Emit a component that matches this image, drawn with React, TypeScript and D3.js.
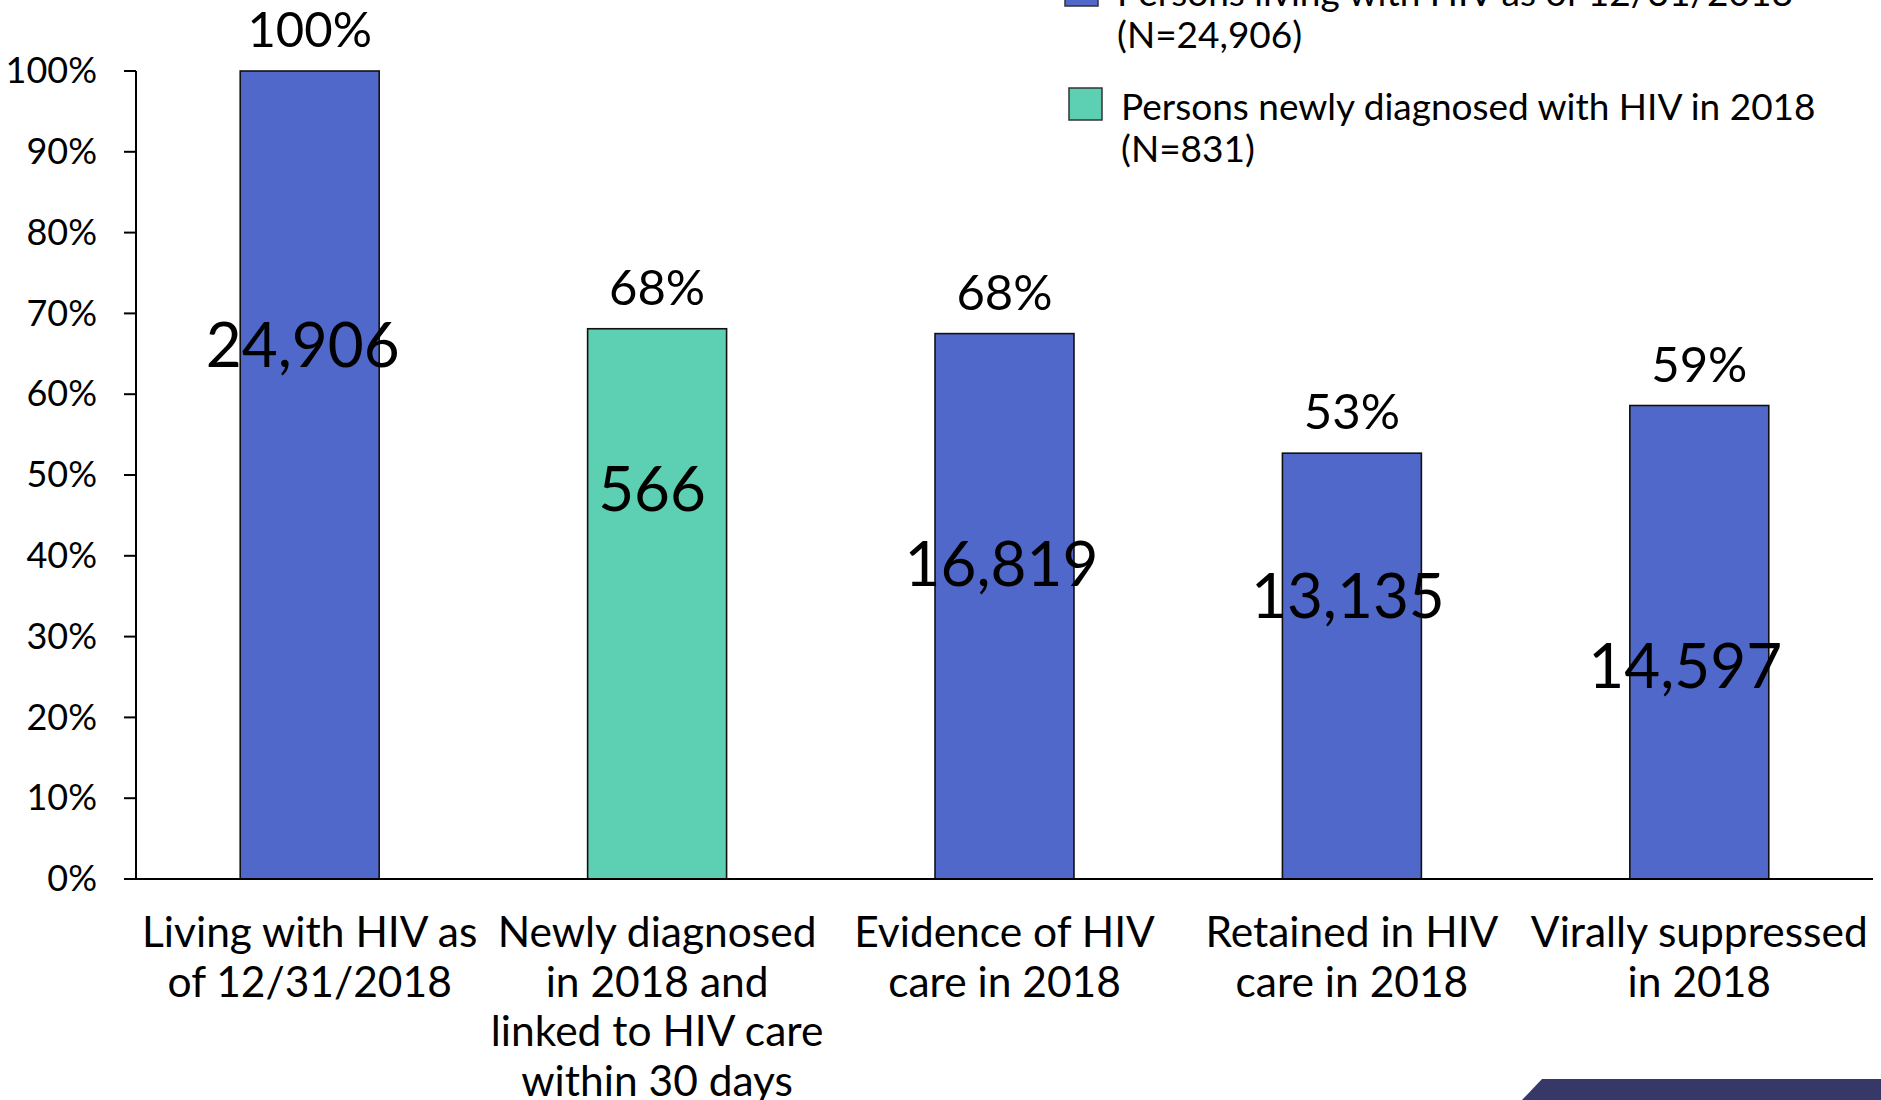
import React from "react";
import * as d3 from "d3";

const categories: string[][] = [
  ["Living with HIV as", "of 12/31/2018"],
  ["Newly diagnosed", "in 2018 and", "linked to HIV care", "within 30 days"],
  ["Evidence of HIV", "care in 2018"],
  ["Retained in HIV", "care in 2018"],
  ["Virally suppressed", "in 2018"],
];
const percentValues = [100, 68.1, 67.5, 52.7, 58.6];
const percentLabels = ["100%", "68%", "68%", "53%", "59%"];
const countLabels = ["24,906", "566", "16,819", "13,135", "14,597"];
// level (in axis %) where each count label is centred
const countLabelLevel = [66.1, 48.3, 39.0, 35.1, 26.4];
const barSeries = [0, 1, 0, 0, 0];
const legendLines: string[][] = [
  ["Persons living with HIV as of 12/31/2018", "(N=24,906)"],
  ["Persons newly diagnosed with HIV in 2018", "(N=831)"],
];
const yTicks = [0, 10, 20, 30, 40, 50, 60, 70, 80, 90, 100];

// layout nudges (px) for the count labels, as placed in the reference
const countNudge = [-7, -5, -3, -4, -14];

const COLORS = ["#4F68C9", "#5DCFB2"];
const FONT = "Lato, 'Open Sans', sans-serif";

export default function App() {
  const W = 1881;
  const H = 1100;
  const left = 136;
  const right = 1873;
  const y0 = 879;
  const y100 = 71;

  const x = d3
    .scaleBand<number>()
    .domain(categories.map((_, i) => i))
    .range([left, right])
    .padding(0);
  const y = d3.scaleLinear().domain([0, 100]).range([y0, y100]);
  const barW = x.step() * 0.4;

  return (
    <svg
      width={W}
      height={H}
      style={{ position: "absolute", left: 0, top: 0, background: "#fff" }}
      fontFamily={FONT}
    >
      <rect x={0} y={0} width={W} height={H} fill="#fff" />

      {/* bars */}
      {percentValues.map((v, i) => {
        const cx = (x(i) as number) + x.bandwidth() / 2;
        return (
          <g key={i}>
            <rect
              x={cx - barW / 2}
              y={y(v)}
              width={barW}
              height={y(0) - y(v)}
              fill={COLORS[barSeries[i]]}
              stroke="#111"
              strokeWidth={1.6}
            />
            <text
              x={cx}
              y={y(v) - 24}
              textAnchor="middle"
              fontSize={49}
              fill="#000"
            >
              {percentLabels[i]}
            </text>
            <text
              x={cx + countNudge[i]}
              y={y(countLabelLevel[i])}
              dy="0.36em"
              textAnchor="middle"
              fontSize={62}
              fill="#000"
            >
              {countLabels[i]}
            </text>
            <text textAnchor="middle" fontSize={42.5} fill="#000">
              {categories[i].map((line, j) => (
                <tspan key={j} x={cx} y={947 + j * 49.6}>
                  {line}
                </tspan>
              ))}
            </text>
          </g>
        );
      })}

      {/* y axis */}
      <line x1={left} x2={left} y1={y(100)} y2={y(0)} stroke="#000" strokeWidth={2} />
      <line x1={124} x2={right} y1={y(0)} y2={y(0)} stroke="#000" strokeWidth={2} />
      {yTicks.map((t) => (
        <g key={t}>
          <line x1={124} x2={left} y1={y(t)} y2={y(t)} stroke="#000" strokeWidth={2} />
          <text
            x={97}
            y={y(t)}
            dy="0.34em"
            textAnchor="end"
            fontSize={36}
            fill="#000"
          >
            {t + "%"}
          </text>
        </g>
      ))}

      {/* legend */}
      {legendLines.map((lines, i) => {
        const baseY = 6 + i * 114;
        const sx = i === 0 ? 1065 : 1069;
        return (
          <g key={i}>
            <rect
              x={sx}
              y={baseY - 32}
              width={33}
              height={32}
              fill={COLORS[i]}
              stroke="#333"
              strokeWidth={1.5}
            />
            <text fontSize={37} fill="#000">
              {lines.map((l, j) => (
                <tspan key={j} x={sx + 52} y={baseY + j * 42}>
                  {l}
                </tspan>
              ))}
            </text>
          </g>
        );
      })}

      {/* slide decoration */}
      <path d="M1542,1079 L1881,1079 L1881,1100 L1522,1100 Z" fill="#363868" />
    </svg>
  );
}
